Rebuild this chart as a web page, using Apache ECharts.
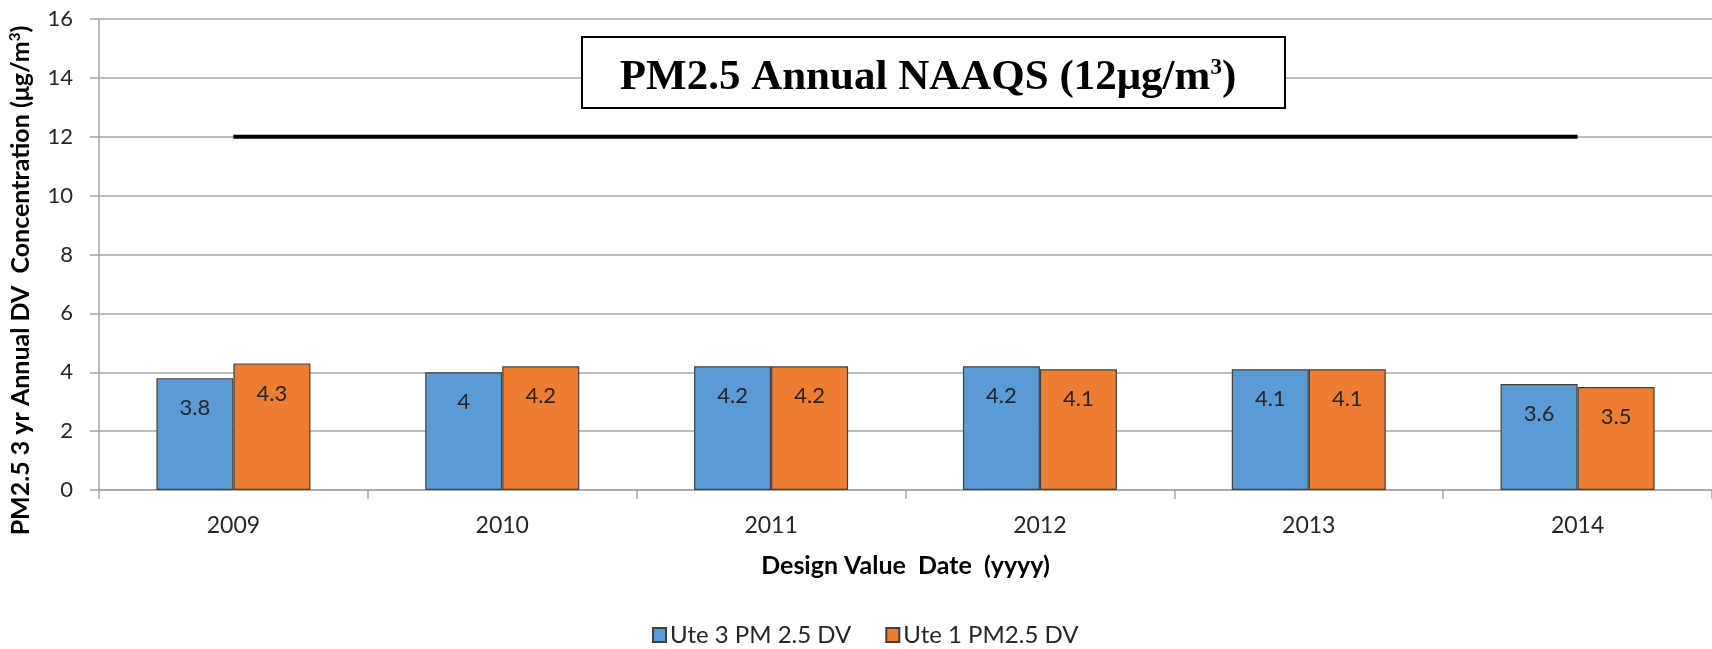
<!DOCTYPE html>
<html>
<head>
<meta charset="utf-8">
<script src="https://cdn.jsdelivr.net/npm/echarts@6/dist/echarts.min.js"></script>
<style>
  html, body { margin: 0; padding: 0; background: #fff; }
  #chart { width: 1712px; height: 649px; }
</style>
</head>
<body>
<div id="chart"></div>
<script>
// chart data
const years = ['2009', '2010', '2011', '2012', '2013', '2014']
const ute3 = [3.8, 4, 4.2, 4.2, 4.1, 3.6]
const ute1 = [4.3, 4.2, 4.2, 4.1, 4.1, 3.5]
const naaqs = [12, 12, 12, 12, 12, 12]
const yTicks = { min: 0, max: 16, interval: 2 }

const font = 'Lato'
const chart = echarts.init(document.getElementById('chart'))

const barLabel = {
  show: true,
  position: 'insideTop',
  distance: 19,
  fontFamily: font,
  fontSize: 22,
  color: '#262626'
}

const option = {
  animation: false,
  backgroundColor: '#fff',
  grid: { left: 99, top: 19, width: 1620, height: 471 },
  legend: {
    left: 652,
    top: 623,
    padding: 0,
    itemWidth: 13,
    itemHeight: 14,
    itemGap: 34,
    icon: 'rect',
    data: ['Ute 3 PM 2.5 DV', 'Ute 1 PM2.5 DV'],
    textStyle: { fontFamily: font, fontSize: 24, color: '#262626', padding: [0, 0, 0, -1] }
  },
  xAxis: {
    type: 'category',
    data: years,
    name: 'Design Value  Date  (yyyy)',
    nameLocation: 'middle',
    nameGap: 63,
    nameTextStyle: { fontFamily: font, fontSize: 25, fontWeight: 'bold', color: '#000' },
    axisLine: { lineStyle: { color: '#a6a6a6', width: 1.5 } },
    axisTick: { show: true, length: 9, lineStyle: { color: '#a6a6a6', width: 1.5 } },
    axisLabel: { margin: 24, fontFamily: font, fontSize: 23, color: '#262626' }
  },
  yAxis: {
    type: 'value',
    min: yTicks.min,
    max: yTicks.max,
    interval: yTicks.interval,
    name: '{a|PM2.5 3 yr Annual DV  Concentration (μg/m}{s|3}{a|)}',
    nameLocation: 'middle',
    nameGap: 66,
    nameTextStyle: {
      padding: [0, 52, 0, 0],
      rich: {
        a: { fontFamily: font, fontSize: 25, fontWeight: 'bold', color: '#000' },
        s: { fontFamily: font, fontSize: 15, fontWeight: 'bold', color: '#000', verticalAlign: 'top', padding: [0, 0, 10, 0] }
      }
    },
    axisLine: { show: true, lineStyle: { color: '#a6a6a6', width: 1.5 } },
    axisTick: { show: true, length: 9, lineStyle: { color: '#a6a6a6', width: 1.5 } },
    splitLine: { lineStyle: { color: '#a6a6a6', width: 1.5 } },
    axisLabel: { margin: 26, fontFamily: font, fontSize: 22, color: '#262626' }
  },
  series: [
    {
      name: 'Ute 3 PM 2.5 DV',
      type: 'bar',
      data: ute3,
      barWidth: 77,
      barGap: '0%',
      itemStyle: { color: '#5b9bd5', borderColor: '#404040', borderWidth: 1.2 },
      label: barLabel
    },
    {
      name: 'Ute 1 PM2.5 DV',
      type: 'bar',
      data: ute1,
      barWidth: 77,
      barGap: '0%',
      itemStyle: { color: '#ed7d31', borderColor: '#404040', borderWidth: 1.2 },
      label: barLabel
    },
    {
      name: 'NAAQS',
      type: 'line',
      data: naaqs,
      symbol: 'none',
      lineStyle: { color: '#000', width: 4 },
      z: 5
    }
  ],
  graphic: [
    {
      type: 'rect',
      x: 582,
      y: 37,
      shape: { x: 0, y: 0, width: 703, height: 71 },
      style: { fill: '#fff', stroke: '#000', lineWidth: 2 },
      z: 10
    },
    {
      type: 'text',
      x: 928,
      y: 78,
      z: 11,
      style: {
        text: '{t|PM2.5 Annual NAAQS (12μg/m}{s|3}{t|)}',
        align: 'center',
        verticalAlign: 'middle',
        rich: {
          t: { fontFamily: 'Liberation Serif', fontSize: 43, fontWeight: 'bold', fill: '#000' },
          s: { fontFamily: 'Liberation Serif', fontSize: 23, fontWeight: 'bold', fill: '#000', verticalAlign: 'top', padding: [0, 0, 14, 0] }
        }
      }
    }
  ]
}

chart.setOption(option)
window.addEventListener('resize', () => {
  chart.resize()
})
</script>
</body>
</html>
